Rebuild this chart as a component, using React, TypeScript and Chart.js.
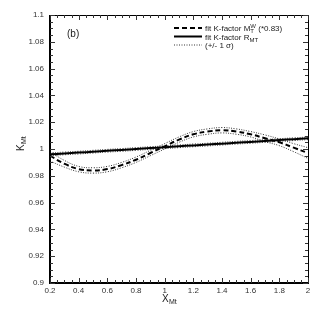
import React, { useEffect, useRef } from "react";
import { Chart, registerables } from "chart.js";
Chart.register(...registerables);

const xValues = [0.2, 0.3, 0.4, 0.5, 0.6, 0.7, 0.8, 0.9, 1.0, 1.1, 1.2, 1.3, 1.4, 1.5, 1.6, 1.7, 1.8, 1.9, 2.0];
const fitM = [0.995, 0.989, 0.985, 0.984, 0.985, 0.988, 0.992, 0.997, 1.002, 1.007, 1.011, 1.013, 1.014, 1.013, 1.011, 1.008, 1.005, 1.001, 0.997];
const fitMUp = [0.998, 0.9915, 0.987, 0.986, 0.987, 0.99, 0.994, 0.999, 1.004, 1.009, 1.013, 1.015, 1.016, 1.015, 1.013, 1.0105, 1.0075, 1.004, 1.001];
const fitMDown = [0.991, 0.9865, 0.983, 0.982, 0.983, 0.986, 0.990, 0.995, 1.0, 1.005, 1.009, 1.011, 1.012, 1.011, 1.009, 1.0055, 1.0025, 0.998, 0.993];
const fitR = [0.996, 0.9967, 0.9973, 0.998, 0.9987, 0.9993, 1.0, 1.0007, 1.0013, 1.002, 1.0027, 1.0033, 1.004, 1.0047, 1.0053, 1.006, 1.0067, 1.0073, 1.008];
const fitRUp = [0.997, 0.9977, 0.9983, 0.999, 0.9997, 1.0003, 1.001, 1.0017, 1.0023, 1.003, 1.0037, 1.0043, 1.005, 1.0057, 1.0063, 1.007, 1.0077, 1.0083, 1.009];
const fitRDown = [0.995, 0.9957, 0.9963, 0.997, 0.9977, 0.9983, 0.999, 0.9997, 1.0003, 1.001, 1.0017, 1.0023, 1.003, 1.0037, 1.0043, 1.005, 1.0057, 1.0063, 1.007];

const X_MIN = 0.2, X_MAX = 2.0, X_STEP = 0.2, X_MINOR = 0.05;
const Y_MIN = 0.9, Y_MAX = 1.1, Y_STEP = 0.02, Y_MINOR = 0.005;

const FONT = "'Liberation Sans', Arial, sans-serif";

function pts(ys: number[]) {
  return xValues.map((x, i) => ({ x, y: ys[i] }));
}

const decoPlugin = {
  id: "deco",
  afterDraw(chart: any) {
    const ctx = chart.ctx as CanvasRenderingContext2D;
    const xs = chart.scales.x;
    const ys = chart.scales.y;
    const a = chart.chartArea;
    ctx.save();
    ctx.strokeStyle = "#000";
    // frame
    ctx.lineWidth = 1;
    ctx.beginPath();
    ctx.moveTo(a.left, a.top + 0.5);
    ctx.lineTo(a.right + 0.5, a.top + 0.5);
    ctx.lineTo(a.right + 0.5, a.bottom);
    ctx.stroke();
    ctx.lineWidth = 2;
    ctx.beginPath();
    ctx.moveTo(a.left, a.top);
    ctx.lineTo(a.left, a.bottom);
    ctx.lineTo(a.right + 1, a.bottom);
    ctx.stroke();
    ctx.lineWidth = 1;
    ctx.strokeStyle = "#333";
    // x ticks
    const nx = Math.round((X_MAX - X_MIN) / X_MINOR);
    for (let i = 0; i <= nx; i++) {
      const v = X_MIN + i * X_MINOR;
      const px = Math.round(xs.getPixelForValue(v)) + 0.5;
      const len = i % 4 === 0 ? 5 : 3;
      ctx.beginPath();
      ctx.moveTo(px, a.bottom);
      ctx.lineTo(px, a.bottom - len);
      ctx.moveTo(px, a.top);
      ctx.lineTo(px, a.top + len);
      ctx.stroke();
    }
    const ny = Math.round((Y_MAX - Y_MIN) / Y_MINOR);
    for (let i = 0; i <= ny; i++) {
      const v = Y_MIN + i * Y_MINOR;
      const py = Math.round(ys.getPixelForValue(v)) + 0.5;
      const len = i % 4 === 0 ? 5 : 3;
      ctx.beginPath();
      ctx.moveTo(a.left, py);
      ctx.lineTo(a.left + len, py);
      ctx.moveTo(a.right, py);
      ctx.lineTo(a.right - len, py);
      ctx.stroke();
    }
    // axis titles
    ctx.fillStyle = "#222";
    ctx.textBaseline = "alphabetic";
    ctx.textAlign = "left";
    ctx.font = `10px ${FONT}`;
    ctx.fillText("X", 162, 302);
    ctx.font = `7px ${FONT}`;
    ctx.fillText("Mt", 169, 304);
    ctx.save();
    ctx.translate(24, 151);
    ctx.rotate(-Math.PI / 2);
    ctx.font = `10px ${FONT}`;
    ctx.fillText("K", 0, 0);
    ctx.font = `7px ${FONT}`;
    ctx.fillText("Mt", 7, 2);
    ctx.restore();
    // (b)
    ctx.font = `10px ${FONT}`;
    ctx.fillText("(b)", 67, 37);
    // legend
    const lx0 = 174, lx1 = 202, tx = 205;
    const rows = [28, 36.5, 45];
    ctx.strokeStyle = "#000";
    ctx.lineWidth = 2;
    ctx.setLineDash([5, 3]);
    ctx.beginPath(); ctx.moveTo(lx0, rows[0]); ctx.lineTo(lx1, rows[0]); ctx.stroke();
    ctx.setLineDash([]);
    ctx.lineWidth = 2;
    ctx.beginPath(); ctx.moveTo(lx0, rows[1]); ctx.lineTo(lx1, rows[1]); ctx.stroke();
    ctx.lineWidth = 0.8;
    ctx.setLineDash([1, 1.5]);
    ctx.beginPath(); ctx.moveTo(lx0, rows[2]); ctx.lineTo(lx1, rows[2]); ctx.stroke();
    ctx.setLineDash([]);
    ctx.fillStyle = "#222";
    ctx.font = `8px ${FONT}`;
    const t1 = "fit K-factor M";
    ctx.fillText(t1, tx, rows[0] + 3);
    let w = ctx.measureText(t1).width;
    ctx.font = `6px ${FONT}`;
    ctx.fillText("W", tx + w, rows[0]);
    ctx.fillText("T", tx + w, rows[0] + 5);
    const ww = ctx.measureText("W").width;
    ctx.font = `8px ${FONT}`;
    ctx.fillText(" (*0.83)", tx + w + ww, rows[0] + 3);
    const t2 = "fit K-factor R";
    ctx.fillText(t2, tx, rows[1] + 3);
    w = ctx.measureText(t2).width;
    ctx.font = `6px ${FONT}`;
    ctx.fillText("MT", tx + w, rows[1] + 5);
    ctx.font = `8px ${FONT}`;
    ctx.fillText("(+/- 1 \u03c3)", tx, rows[2] + 3);
    ctx.restore();
  },
};

export default function App() {
  const ref = useRef<HTMLCanvasElement | null>(null);
  useEffect(() => {
    document.body.style.margin = "0";
    const canvas = ref.current!;
    const dotted = { borderColor: "#000", borderWidth: 0.8, borderDash: [1, 1.5], pointRadius: 0, tension: 0.4, fill: false };
    const chart = new Chart(canvas, {
      type: "line",
      data: {
        datasets: [
          { label: "M up", data: pts(fitMUp), ...dotted },
          { label: "M down", data: pts(fitMDown), ...dotted },
          { label: "R up", data: pts(fitRUp), ...dotted },
          { label: "R down", data: pts(fitRDown), ...dotted },
          { label: "fit R", data: pts(fitR), borderColor: "#000", borderWidth: 2, pointRadius: 0, tension: 0.4, fill: false },
          { label: "fit M", data: pts(fitM), borderColor: "#000", borderWidth: 2, borderDash: [5, 3], pointRadius: 0, tension: 0.4, fill: false },
        ],
      },
      options: {
        animation: false,
        responsive: false,
        maintainAspectRatio: false,
        devicePixelRatio: 1,
        layout: { padding: { top: 15, right: 6, left: 0, bottom: 0 } },
        plugins: { legend: { display: false }, tooltip: { enabled: false } },
        scales: {
          x: {
            type: "linear",
            min: X_MIN,
            max: X_MAX,
            border: { display: false },
            grid: { display: false, drawTicks: false },
            ticks: {
              stepSize: X_STEP,
              padding: 3,
              color: "#333",
              font: { size: 8, family: FONT },
              maxRotation: 0,
              callback: (v: any) => String(Number(Number(v).toFixed(2))),
            },
            afterFit: (s: any) => { s.height = 30; },
          },
          y: {
            type: "linear",
            min: Y_MIN,
            max: Y_MAX,
            border: { display: false },
            grid: { display: false, drawTicks: false },
            ticks: {
              stepSize: Y_STEP,
              padding: 6,
              color: "#333",
              font: { size: 8, family: FONT },
              callback: (v: any) => String(Number(Number(v).toFixed(3))),
            },
            afterFit: (s: any) => { s.width = 50; },
          },
        },
      },
      plugins: [decoPlugin],
    } as any);
    return () => chart.destroy();
  }, []);
  return (
    <div style={{ width: 314, height: 313 }}>
      <canvas ref={ref} width={314} height={313} style={{ display: "block", width: 314, height: 313 }} />
    </div>
  );
}
